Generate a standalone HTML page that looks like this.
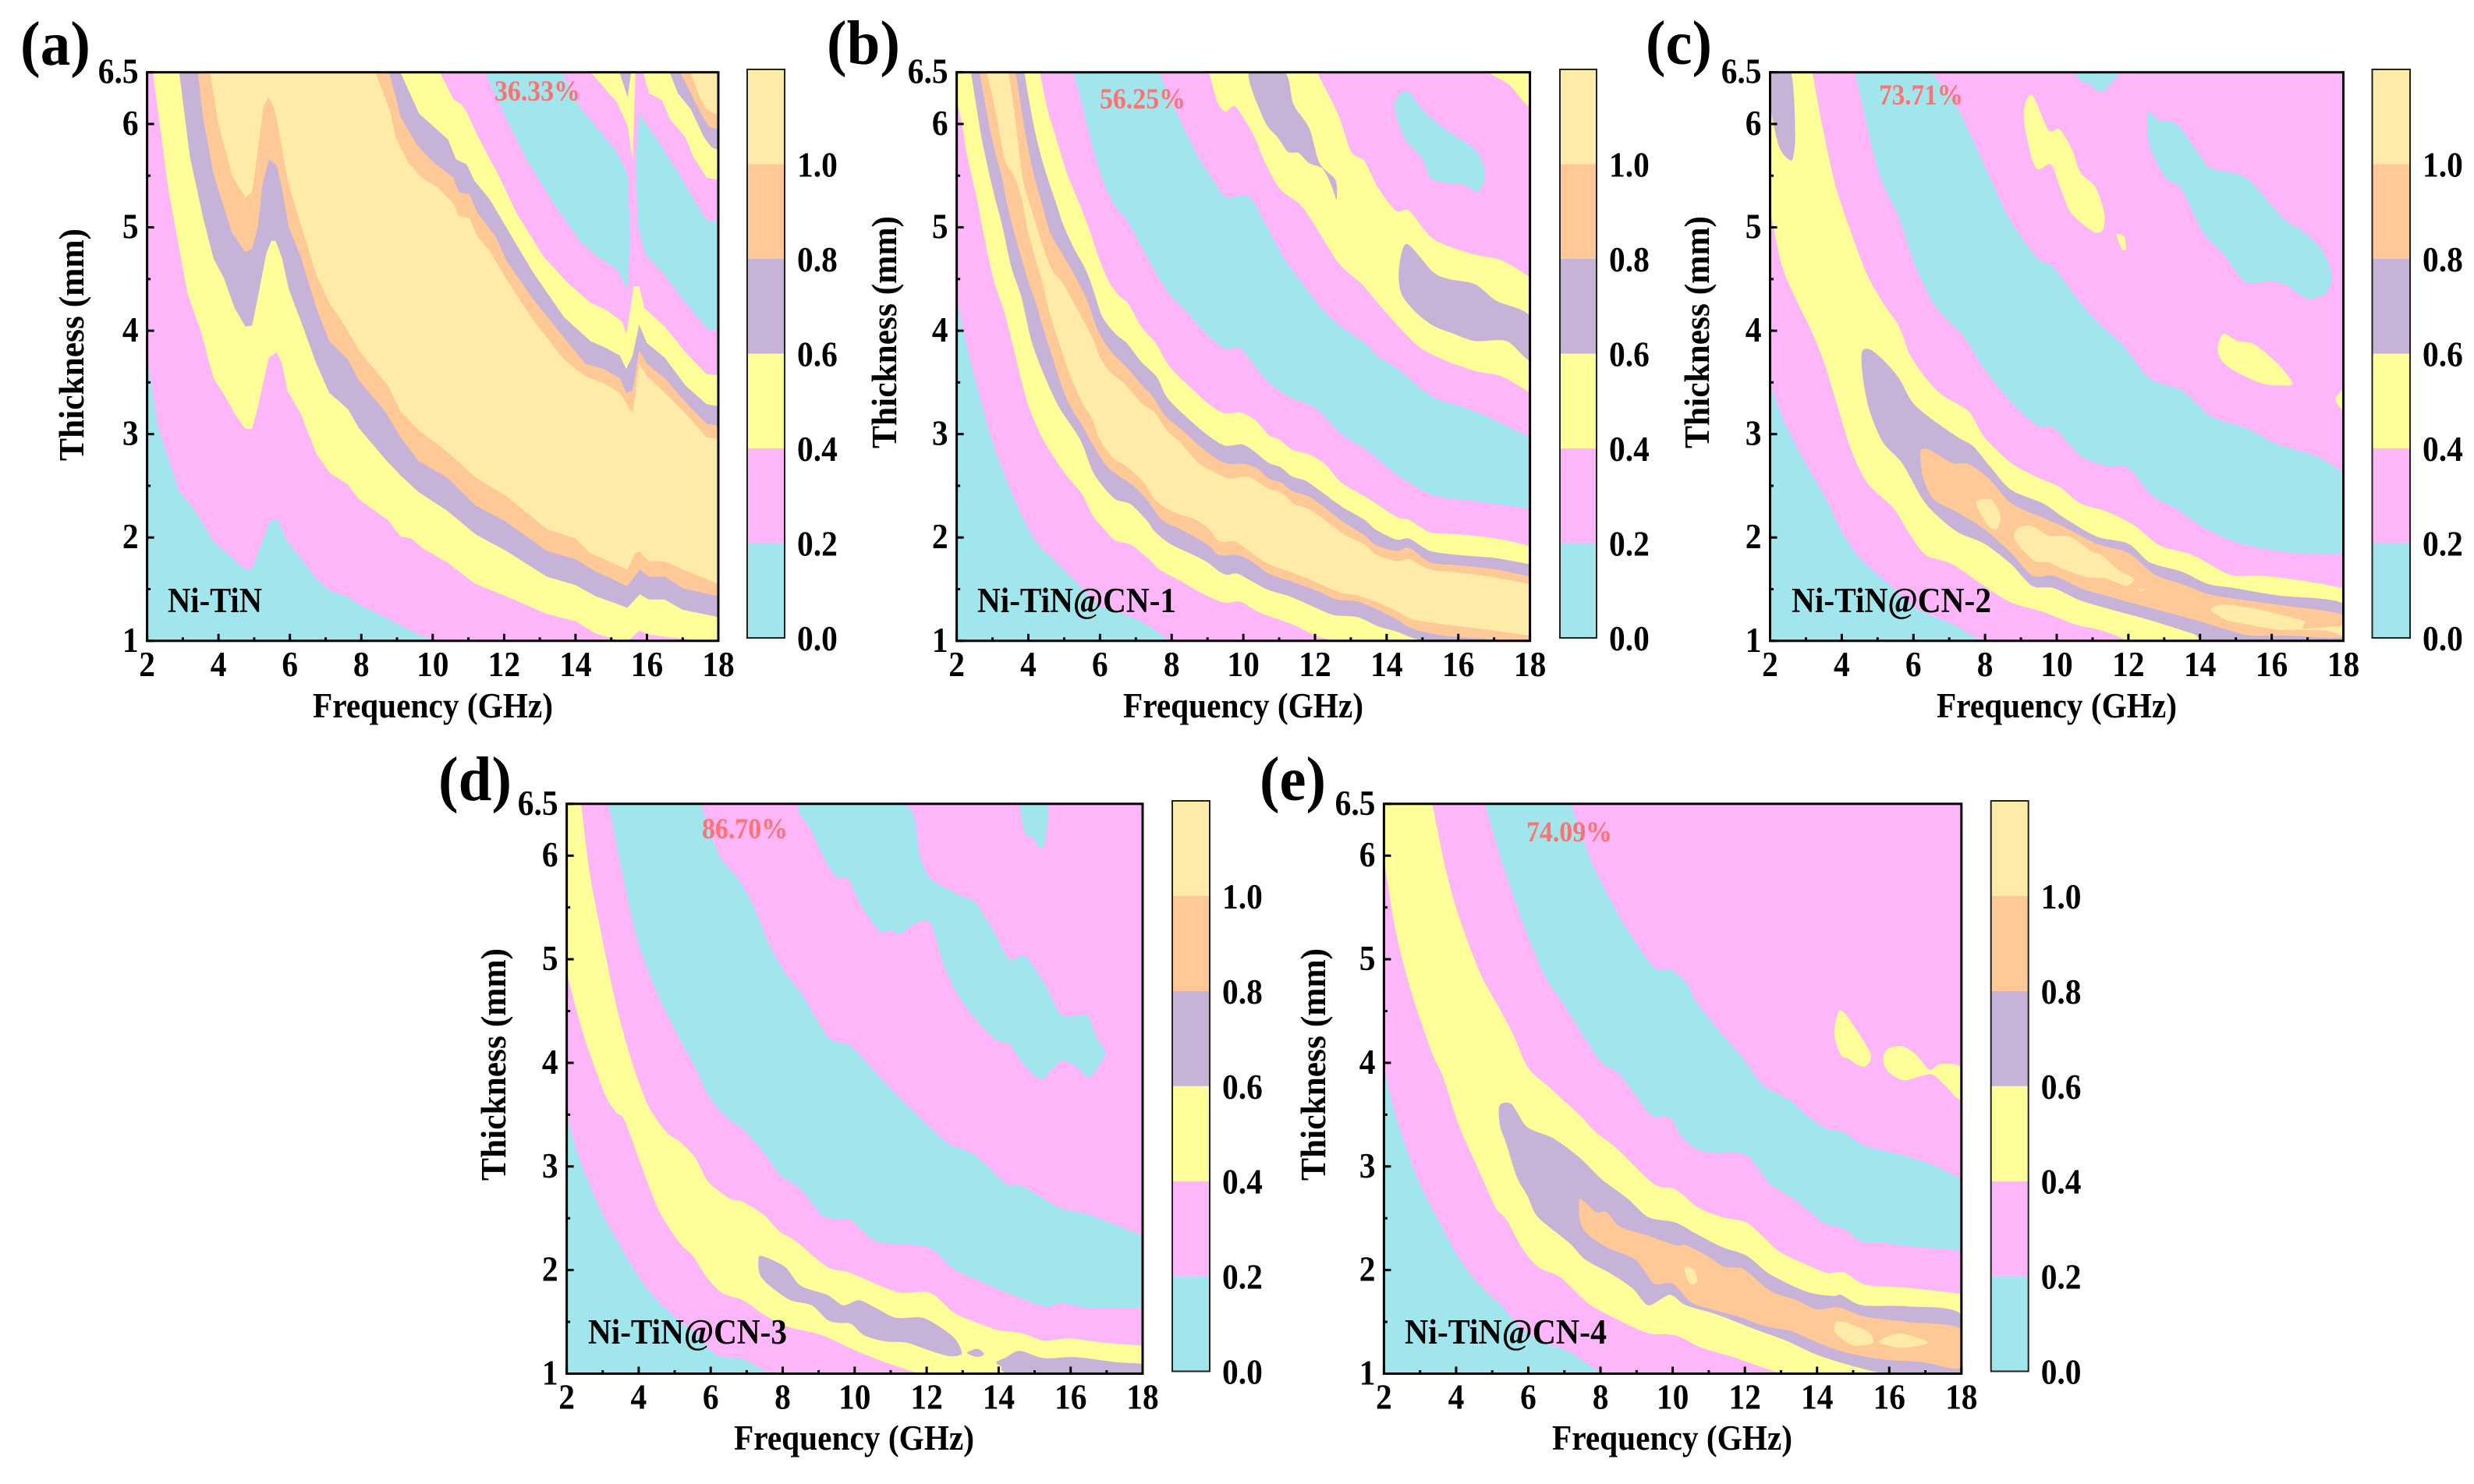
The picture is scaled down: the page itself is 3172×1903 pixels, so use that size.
<!DOCTYPE html>
<html lang="en">
<head>
<meta charset="utf-8">
<title>Ni-TiN absorption contour maps</title>
<style>
html,body{margin:0;padding:0;background:#fff;}
svg{display:block;}
text{font-family:"Liberation Serif",serif;font-weight:bold;fill:#000;}
.letter{font-size:80px;}
.title{font-size:46px;}
.tick{font-size:45px;}
.sample{font-size:45px;}
.pct{font-size:37px;fill:#ff7272;}
</style>
</head>
<body>
<svg id="figure" xmlns="http://www.w3.org/2000/svg" width="3172" height="1903" viewBox="0 0 3172 1903">
<rect x="0" y="0" width="3172" height="1903" fill="#fff"/>
<g id="panel-a"></g>
<g id="panel-b"></g>
<g id="panel-c"></g>
<g id="panel-d"></g>
<g id="panel-e"></g>
<g>
<text class="letter" x="26" y="83" textLength="90" lengthAdjust="spacingAndGlyphs">(a)</text>
<text class="title" x="555" y="920" text-anchor="middle" textLength="308" lengthAdjust="spacingAndGlyphs">Frequency (GHz)</text>
<text class="title" transform="translate(107,442) rotate(-90)" text-anchor="middle" textLength="298" lengthAdjust="spacingAndGlyphs">Thickness (mm)</text>
<text class="sample" x="215" y="785" textLength="121" lengthAdjust="spacingAndGlyphs">Ni-TiN</text>
<text class="pct" x="634" y="129" textLength="110" lengthAdjust="spacingAndGlyphs">36.33%</text>
</g>
<g>
<text class="letter" x="1060" y="82" textLength="94" lengthAdjust="spacingAndGlyphs">(b)</text>
<text class="title" x="1594" y="920" text-anchor="middle" textLength="308" lengthAdjust="spacingAndGlyphs">Frequency (GHz)</text>
<text class="title" transform="translate(1149,426) rotate(-90)" text-anchor="middle" textLength="298" lengthAdjust="spacingAndGlyphs">Thickness (mm)</text>
<text class="sample" x="1253" y="785" textLength="255" lengthAdjust="spacingAndGlyphs">Ni-TiN@CN-1</text>
<text class="pct" x="1410" y="139" textLength="110" lengthAdjust="spacingAndGlyphs">56.25%</text>
</g>
<g>
<text class="letter" x="2110" y="82" textLength="85" lengthAdjust="spacingAndGlyphs">(c)</text>
<text class="title" x="2637" y="920" text-anchor="middle" textLength="308" lengthAdjust="spacingAndGlyphs">Frequency (GHz)</text>
<text class="title" transform="translate(2191,426) rotate(-90)" text-anchor="middle" textLength="298" lengthAdjust="spacingAndGlyphs">Thickness (mm)</text>
<text class="sample" x="2297" y="785" textLength="256" lengthAdjust="spacingAndGlyphs">Ni-TiN@CN-2</text>
<text class="pct" x="2409" y="134" textLength="108" lengthAdjust="spacingAndGlyphs">73.71%</text>
</g>
<g>
<text class="letter" x="562" y="1026" textLength="94" lengthAdjust="spacingAndGlyphs">(d)</text>
<text class="title" x="1095" y="1859" text-anchor="middle" textLength="308" lengthAdjust="spacingAndGlyphs">Frequency (GHz)</text>
<text class="title" transform="translate(648,1365) rotate(-90)" text-anchor="middle" textLength="298" lengthAdjust="spacingAndGlyphs">Thickness (mm)</text>
<text class="sample" x="754" y="1723" textLength="255" lengthAdjust="spacingAndGlyphs">Ni-TiN@CN-3</text>
<text class="pct" x="900" y="1075" textLength="110" lengthAdjust="spacingAndGlyphs">86.70%</text>
</g>
<g>
<text class="letter" x="1615" y="1026" textLength="85" lengthAdjust="spacingAndGlyphs">(e)</text>
<text class="title" x="2144" y="1859" text-anchor="middle" textLength="308" lengthAdjust="spacingAndGlyphs">Frequency (GHz)</text>
<text class="title" transform="translate(1699,1365) rotate(-90)" text-anchor="middle" textLength="298" lengthAdjust="spacingAndGlyphs">Thickness (mm)</text>
<text class="sample" x="1801" y="1723" textLength="259" lengthAdjust="spacingAndGlyphs">Ni-TiN@CN-4</text>
<text class="pct" x="1957" y="1079" textLength="110" lengthAdjust="spacingAndGlyphs">74.09%</text>
</g>
</svg>
<script>
// Shared axis values
const xMajorTicks = [2,4,6,8,10,12,14,16,18];
const xMinorTicks = [3,5,7,9,11,13,15,17];
const yMajorTicks = [1,2,3,4,5,6,6.5];
const yMinorTicks = [1.5,2.5,3.5,4.5,5.5];
const colorbarTicks = [0,0.2,0.4,0.6,0.8,1.0];
const colorbarEdges = [0,0.2,0.4,0.6,0.8,1.0,1.2];
const bandColors = ['#a1e6ec','#feb6fb','#feff98','#c8b3d8','#fec897','#feeba7'];

// Panel (a): contour curves (frequency GHz, thickness mm)
const a1 = [[2,3.75],[2.3,3.08],[2.9,2.44],[3.27,2.3],[3.86,1.96],[4.23,1.85],[4.75,1.69],[4.94,1.69],[5.1,1.85],[5.44,2.15],[5.64,2.18],[5.93,1.96],[6.3,1.8],[6.74,1.6],[7.15,1.48],[7.6,1.43],[8,1.34],[8.66,1.23],[9.2,1.13],[9.7,1.05],[10.06,1]];
const a2 = [[2.16,6.5],[2.6,5.36],[3.13,4.36],[3.5,4],[3.86,3.54],[4.16,3.38],[4.45,3.2],[4.75,3.05],[4.94,3.05],[5.1,3.26],[5.41,3.74],[5.63,3.79],[5.78,3.68],[5.93,3.42],[6.3,3.2],[6.74,2.81],[7.1,2.63],[7.63,2.51],[7.93,2.37],[8.74,2.17],[9.1,2.01],[9.4,1.99],[9.7,1.9],[10.4,1.76],[11.2,1.55],[12.06,1.43],[13.2,1.26],[14,1.19],[14.57,1.07],[15.15,1.01],[15.5,1.01],[15.8,1.1],[16.05,1.06],[16.5,1.04],[17,1.02],[17.6,1]];
const a3 = [[2.9,6.5],[3.2,5.68],[3.57,5.09],[3.86,4.7],[4.16,4.5],[4.45,4.22],[4.75,4.04],[4.94,4.05],[5.1,4.32],[5.34,4.75],[5.48,4.87],[5.6,4.87],[5.78,4.7],[5.97,4.4],[6.3,4.1],[6.74,3.68],[7.1,3.4],[7.63,3.24],[7.93,3.06],[8.66,2.76],[9.1,2.6],[9.6,2.44],[10.4,2.26],[11.2,2.03],[12.06,1.87],[13.2,1.62],[14,1.54],[14.57,1.43],[15.15,1.36],[15.45,1.32],[15.8,1.45],[16.05,1.4],[16.5,1.4],[17,1.3],[18,1.23]];
const a4 = [[3.42,6.5],[3.57,6.05],[3.86,5.52],[4.08,5.27],[4.38,4.95],[4.75,4.76],[4.94,4.79],[5.1,5],[5.23,5.41],[5.41,5.66],[5.63,5.6],[5.78,5.37],[5.97,5],[6.3,4.72],[6.74,4.22],[7.1,3.9],[7.63,3.72],[7.93,3.52],[8.66,3.22],[9.1,2.97],[9.6,2.74],[10.4,2.58],[11.2,2.31],[12.06,2.15],[13.2,1.87],[14,1.79],[14.57,1.67],[15.45,1.53],[15.8,1.69],[16.05,1.62],[16.5,1.62],[17,1.51],[18,1.43]];
const a5 = [[3.76,6.5],[4,6],[4.38,5.5],[4.75,5.29],[4.94,5.34],[5.1,5.73],[5.26,6.17],[5.41,6.26],[5.56,6.15],[5.74,5.85],[5.93,5.46],[6.2,5.14],[6.74,4.54],[7.1,4.27],[7.55,4.04],[7.93,3.81],[8.74,3.47],[9.1,3.22],[9.6,3.04],[10.4,2.83],[11.2,2.58],[12.06,2.4],[13.2,2.08],[14,1.99],[14.4,1.85],[15.45,1.69],[15.68,1.85],[15.8,1.86],[16.05,1.77],[16.5,1.77],[17,1.69],[18,1.55]];
const a6 = [[8.4,6.5],[8.81,6.12],[8.96,5.87],[9.33,5.62],[9.7,5.48],[10.13,5.39],[10.58,5.23],[10.73,5.11],[11.03,5.09],[11.25,4.91],[11.6,4.77],[12.06,4.5],[12.8,4.11],[13.68,3.72],[14.28,3.56],[14.8,3.49],[15.24,3.4],[15.6,3.2],[15.78,3.68],[16,3.56],[16.5,3.4],[17.08,3.2],[17.67,2.97],[18,2.95]];
const a7 = [[8.78,6.5],[8.96,6.26],[9.1,6.07],[9.55,5.8],[9.99,5.64],[10.58,5.48],[10.73,5.34],[11.03,5.32],[11.25,5.14],[11.77,4.91],[12.06,4.68],[12.8,4.31],[13.68,3.93],[14.28,3.68],[14.8,3.63],[15.24,3.54],[15.42,3.4],[15.6,3.42],[15.78,3.81],[16,3.68],[16.5,3.54],[17.08,3.31],[17.67,3.1],[18,3.08]];
const a8 = [[9.1,6.5],[9.25,6.38],[9.62,6.1],[10.43,5.85],[10.65,5.66],[10.95,5.61],[11.17,5.45],[11.6,5.27],[12.06,5],[12.8,4.57],[13.68,4.13],[14.42,3.9],[14.87,3.83],[15.24,3.76],[15.42,3.63],[15.6,3.76],[15.78,4.06],[16,3.88],[16.5,3.74],[17.08,3.47],[17.67,3.29],[18,3.27]];
const a9 = [[10.2,6.5],[10.58,6.24],[10.8,6.19],[10.95,6.12],[11.25,5.89],[11.85,5.5],[12.36,5.13],[13.1,4.72],[13.76,4.47],[14.42,4.27],[14.87,4.2],[15.3,4.09],[15.43,3.97],[15.63,4.43],[15.78,4.43],[15.93,4.22],[16.5,4.04],[17.08,3.79],[17.67,3.58],[18,3.57]];
const aCyanLeft = [[11.47,6.5],[12.06,6.05],[12.65,5.64],[13.39,5.23],[14.13,4.86],[14.57,4.73],[15.16,4.59],[15.46,4.4],[15.53,4.91],[15.46,5.5],[15.16,5.73],[14.13,6.16],[13.61,6.5]];
const aCyanRight = [[15.78,6.1],[16.34,5.82],[16.93,5.5],[17.38,5.23],[17.67,5.07],[18,5.05],[18,4],[17.67,4.02],[17.08,4.27],[16.49,4.54],[15.97,4.73],[15.75,5],[15.68,5.59]];
const aYellowSpike = [[14.42,6.5],[15.16,6.21],[15.46,5.98],[15.6,5.66],[15.68,6.5]];
const aPurpleSpike = [[15.23,6.5],[15.46,6.26],[15.56,6.5]];
const aCornerYellow = [[15.9,6.5],[16.05,6.3],[16.42,6.23],[16.64,6.05],[17.08,5.87],[17.3,5.68],[17.67,5.48],[18,5.46],[18,6.5]];
const aCornerPurple = [[16.64,6.5],[16.86,6.3],[17.23,6.14],[17.45,5.98],[17.6,5.87],[17.82,5.77],[18,5.75],[18,6.5]];
const aCornerOrange = [[16.93,6.5],[17.15,6.35],[17.38,6.19],[17.6,6.05],[17.75,5.97],[18,5.95],[18,6.5]];
const aCornerCream = [[17.23,6.5],[17.45,6.28],[17.67,6.14],[18,6.08],[18,6.5]];
const aSweeps = [a1,a2,a3,a4,a5,a6,a7,a8,a9];
const aSweepBands = [1,2,3,4,5,4,3,2,1];
const aIslands = [aCyanLeft,aCyanRight,aYellowSpike,aPurpleSpike,aCornerYellow,aCornerPurple,aCornerOrange,aCornerCream];
const aIslandBands = [0,0,2,3,2,3,4,5];

// Panel (b)
const b1 = [[2,4.32],[2.29,3.84],[2.94,2.99],[3.31,2.63],[3.82,2.21],[4.26,1.94],[4.85,1.74],[5.51,1.5],[5.99,1.34],[6.65,1.26],[7.23,1.17],[7.95,1]];
const b2 = [[2,6.23],[2.15,6],[2.29,5.7],[2.58,5.25],[2.8,4.85],[3.05,4.47],[3.34,4.17],[3.58,3.84],[3.97,3.31],[4.41,2.95],[5,2.63],[5.5,2.42],[5.78,2.22],[6.14,2.07],[6.43,1.97],[6.86,1.93],[7.37,1.79],[7.66,1.69],[8.24,1.58],[8.9,1.45],[9.48,1.37],[9.91,1.38],[10.35,1.29],[10.71,1.24],[11.43,1.15],[12.02,1.05],[12.6,1]];
const b3 = [[2.4,6.5],[2.58,6.1],[2.73,5.8],[3.02,5.35],[3.27,5.02],[3.52,4.62],[3.81,4.32],[4.14,3.84],[4.78,3.31],[5.44,2.95],[5.78,2.65],[6.07,2.5],[6.43,2.37],[6.86,2.32],[7.34,2.15],[7.52,2.06],[7.95,1.94],[8.9,1.78],[9.33,1.67],[9.55,1.64],[9.84,1.65],[10.27,1.57],[10.71,1.49],[11.29,1.43],[12.02,1.32],[12.52,1.25],[13.18,1.23],[13.76,1.14],[14.27,1.09],[14.7,1.03],[15,1]];
const b4 = [[2.64,6.5],[2.83,6.13],[3.02,5.8],[3.27,5.48],[3.41,5.22],[3.67,4.87],[3.96,4.52],[4.25,4.22],[4.58,3.84],[5.07,3.34],[5.51,3.08],[5.78,2.91],[6.14,2.71],[6.5,2.6],[6.86,2.52],[7.3,2.37],[7.73,2.17],[8.24,2.08],[8.97,1.94],[9.33,1.83],[9.84,1.83],[10.27,1.76],[10.71,1.65],[11.29,1.58],[12.02,1.49],[12.6,1.4],[13.18,1.38],[13.76,1.3],[14.27,1.21],[14.7,1.12],[15.59,1.05],[16.76,1.02],[17.35,1]];
const b5 = [[2.83,6.5],[3.02,6.23],[3.23,5.85],[3.36,5.63],[3.6,5.5],[3.81,5.28],[3.96,5],[4.18,4.72],[4.39,4.47],[4.58,4.19],[4.9,3.84],[5.15,3.58],[5.51,3.3],[5.78,3.15],[5.99,2.95],[6.36,2.77],[6.72,2.69],[7.23,2.53],[7.52,2.37],[8.02,2.25],[8.68,2.17],[9.04,2.08],[9.33,1.96],[9.77,1.96],[10.27,1.84],[10.71,1.74],[11.29,1.67],[12.02,1.57],[12.67,1.47],[13.18,1.44],[13.76,1.37],[14.27,1.29],[14.7,1.21],[15.59,1.16],[16.76,1.11],[18,1.05]];
const b6 = [[3.45,6.5],[3.6,6.13],[3.71,5.83],[3.78,5.63],[3.85,5.45],[3.99,5.28],[4.18,5.07],[4.36,4.87],[4.65,4.6],[4.98,4.45],[5.34,4.22],[5.66,4.02],[5.85,3.88],[5.99,3.75],[6.28,3.6],[6.65,3.5],[7.15,3.3],[7.52,3.21],[7.88,3.03],[8.24,2.92],[8.75,2.72],[9.26,2.62],[9.62,2.57],[10.13,2.59],[10.49,2.52],[10.71,2.47],[11.07,2.43],[11.43,2.32],[11.8,2.28],[12.31,2.16],[12.81,2.03],[13.39,1.93],[13.68,1.84],[14.27,1.77],[14.63,1.79],[15.22,1.69],[16.03,1.66],[17.06,1.61],[18,1.55]];
const b7 = [[3.65,6.5],[3.81,6.13],[3.96,5.83],[4.14,5.53],[4.36,5.25],[4.61,4.95],[4.9,4.77],[5.27,4.55],[5.63,4.3],[5.92,4.02],[6.14,3.88],[6.43,3.75],[6.79,3.63],[7.15,3.48],[7.48,3.36],[7.81,3.18],[8.32,3.03],[8.9,2.85],[9.48,2.72],[10.06,2.71],[10.42,2.66],[10.71,2.57],[11.07,2.53],[11.36,2.45],[11.8,2.4],[12.23,2.3],[12.74,2.16],[13.39,2.02],[13.68,1.93],[14.27,1.87],[14.63,1.9],[15.22,1.76],[16.03,1.73],[17.06,1.69],[18,1.62]];
const b8 = [[3.89,6.5],[4.07,6.13],[4.25,5.83],[4.47,5.55],[4.76,5.25],[4.98,5.02],[5.27,4.8],[5.59,4.6],[5.81,4.4],[6.06,4.14],[6.43,3.97],[6.75,3.88],[7.15,3.7],[7.59,3.55],[7.88,3.35],[8.46,3.15],[8.97,3],[9.48,2.89],[9.98,2.9],[10.35,2.82],[10.71,2.72],[11.04,2.68],[11.36,2.59],[11.73,2.55],[12.23,2.43],[12.74,2.3],[13.39,2.17],[13.68,2.08],[14.27,1.98],[14.63,1.99],[15.22,1.87],[16.03,1.83],[17.06,1.8],[18,1.74]];
const b9 = [[4.32,6.5],[4.54,6.13],[4.76,5.88],[5.05,5.55],[5.34,5.3],[5.66,5.02],[5.92,4.75],[6.21,4.5],[6.5,4.35],[6.79,4.26],[7.15,4.04],[7.55,3.88],[7.95,3.65],[8.53,3.45],[9.04,3.29],[9.48,3.2],[9.91,3.21],[10.35,3.13],[10.71,2.99],[11,2.95],[11.36,2.85],[11.87,2.8],[12.31,2.7],[12.74,2.53],[13.47,2.38],[14.27,2.2],[14.63,2.17],[15.22,2.05],[16.03,2.03],[17.06,1.99],[18,1.92]];
const b10 = [[5.25,6.5],[5.41,6.31],[5.63,6],[5.85,5.7],[6.14,5.4],[6.43,5.2],[6.79,5.05],[7.22,4.77],[7.66,4.5],[7.95,4.35],[8.46,4.17],[8.82,4.02],[9.26,3.88],[9.51,3.82],[9.91,3.83],[10.27,3.68],[10.71,3.5],[11.29,3.36],[12.02,3.25],[12.74,3],[13.47,2.84],[14.27,2.61],[15.29,2.41],[16.47,2.35],[18,2.28]];
const b11 = [[7.66,6.5],[7.88,6.31],[8.24,6.03],[8.53,5.83],[8.82,5.63],[9.18,5.45],[9.51,5.29],[10.15,5.3],[10.59,5.05],[11.18,4.68],[12.06,4.27],[12.65,4.06],[13.39,3.88],[13.76,3.75],[14.27,3.64],[15.29,3.36],[16.47,3.22],[18,2.97]];
const b12 = [[9.04,6.5],[9.29,6.2],[9.51,6.12],[9.69,6.17],[9.85,6.14],[10.29,5.89],[10.59,5.64],[11.03,5.37],[11.69,5.18],[12.65,4.66],[13.31,4.45],[13.97,4.18],[14.85,3.86],[15.59,3.72],[16.47,3.61],[17.2,3.56],[18,3.4]];
const b13 = [[12.06,6.5],[12.65,6.09],[13.01,5.73],[13.38,5.64],[13.75,5.39],[14.26,5.16],[14.63,5.16],[15.29,4.89],[16.32,4.75],[17.21,4.68],[18,4.52]];
const bPurpleTop = [[10.15,6.5],[11.15,6.5],[11.4,6.19],[11.84,5.96],[12.13,5.62],[12.57,5.46],[12.6,5.27],[12.43,5.43],[12.2,5.57],[11.84,5.62],[11.54,5.72],[11.25,5.73],[10.96,5.87],[10.59,6.03]];
const bPurpleRight = [[14.56,4.84],[15.29,4.57],[15.74,4.5],[16.47,4.45],[17.06,4.29],[18,4.14],[18,3.72],[17.35,3.9],[16.47,3.9],[15.88,3.97],[15.29,4.05],[14.78,4.19],[14.41,4.36],[14.34,4.59]];
const bCyanIsland = [[14.56,6.32],[15,6.14],[15.51,5.98],[16.47,5.75],[16.74,5.55],[16.69,5.41],[16.5,5.34],[16.18,5.41],[15.29,5.46],[15,5.66],[14.49,5.87],[14.22,6.19]];
const bCornerYellow = [[16.9,6.5],[17.42,6.38],[18,6.17],[18,6.5]];
const bSweeps = [b1,b2,b3,b4,b5,b6,b7,b8,b9,b10,b11,b12,b13];
const bSweepBands = [1,2,3,4,5,4,3,2,1,0,1,2,1];
const bIslands = [bPurpleTop,bPurpleRight,bCyanIsland,bCornerYellow];
const bIslandBands = [3,3,0,2];

// Panel (c)
const c1 = [[2,3.49],[2.33,3.17],[2.92,2.76],[3.52,2.4],[4.04,2.03],[4.56,1.78],[5.3,1.55],[6.05,1.32],[7.09,1.16],[7.76,1.03],[7.98,1]];
const c2 = [[2,5.18],[2.33,4.63],[2.77,4.27],[3.15,4],[3.52,3.68],[3.89,3.26],[4.26,2.85],[4.71,2.53],[5.45,2.28],[5.9,2.03],[6.35,1.83],[7.09,1.74],[7.98,1.53],[8.73,1.37],[9.62,1.28],[10.51,1.16],[11.26,1.1],[12,1]];
const c3 = [[3.18,6.5],[3.44,6.01],[3.82,5.41],[4.26,4.95],[4.71,4.54],[5.15,4.27],[5.6,4.04],[5.9,3.77],[6.35,3.54],[6.79,3.38],[7.54,3.22],[7.98,2.97],[8.73,2.72],[9.47,2.58],[10.07,2.49],[10.66,2.33],[11.4,2.25],[12.15,2.12],[12.89,1.92],[13.79,1.83],[14.83,1.64],[15.72,1.63],[16.91,1.58],[18,1.51]];
const c4 = [[4.37,6.5],[5.01,5.55],[5.6,5.09],[6.05,4.63],[6.64,4.22],[7.39,3.95],[7.98,3.63],[8.73,3.31],[9.47,3.08],[9.92,3.06],[10.66,2.79],[11.4,2.69],[12,2.67],[12.67,2.4],[13.34,2.28],[14.08,2.1],[15.13,1.94],[16.61,1.85],[18,1.84]];
const c5 = [[6.5,6.5],[7.09,6.24],[7.68,5.83],[8.28,5.37],[8.73,5.05],[9.47,4.7],[9.92,4.61],[10.66,4.27],[11.26,4.04],[11.85,3.86],[12.6,3.54],[13.49,3.42],[14.31,3.17],[15.27,3.06],[16.17,2.9],[17.21,2.79],[18,2.63]];
const cPurpleLeft = [[2,6.5],[2.58,6.5],[2.7,5.92],[2.65,5.69],[2.55,5.65],[2.25,5.78],[2,6.19]];
const cPurpleMain = [[4.56,3.79],[4.78,3.82],[5.15,3.72],[5.6,3.54],[5.97,3.31],[6.49,3.15],[7.24,2.97],[7.68,2.88],[8.13,2.69],[8.73,2.46],[9.62,2.33],[10.21,2.19],[11.11,2.01],[12,1.94],[12.6,1.76],[13.49,1.67],[14.23,1.55],[14.98,1.51],[16.17,1.44],[18,1.36],[18,1],[14.38,1],[13.79,1.07],[12.6,1.2],[11.55,1.3],[10.66,1.39],[9.92,1.51],[9.32,1.53],[8.73,1.74],[7.98,1.94],[7.24,2.05],[6.57,2.24],[6.2,2.4],[5.68,2.72],[5.15,2.92],[4.78,3.22],[4.59,3.54]];
const cOrangeMain = [[6.2,2.83],[6.43,2.85],[7.09,2.72],[7.54,2.71],[8.13,2.56],[8.73,2.33],[9.62,2.19],[10.21,2.1],[11.11,1.94],[12,1.85],[12.74,1.64],[13.49,1.55],[14.38,1.44],[16.17,1.35],[18,1.25],[18,1.04],[16.47,1.05],[15.42,1.05],[14.83,1.1],[13.79,1.21],[12.6,1.32],[11.55,1.42],[10.66,1.51],[9.92,1.63],[9.32,1.63],[8.73,1.85],[7.98,2.08],[7.24,2.24],[6.57,2.37],[6.27,2.58]];
const cCream1 = [[7.76,2.35],[7.98,2.37],[8.2,2.36],[8.43,2.21],[8.35,2.09],[8.13,2.1],[7.83,2.26]];
const cCream2 = [[8.8,2.01],[8.95,2.1],[9.32,2.11],[9.77,2.02],[10.36,2.01],[10.96,1.87],[11.26,1.83],[11.7,1.69],[12.15,1.6],[11.93,1.53],[11.4,1.6],[10.81,1.62],[10.21,1.69],[9.77,1.76],[9.4,1.77],[9.02,1.89]];
const cCream3 = [[12.27,1.5],[12.49,1.5],[12.37,1.48]];
const cCream4 = [[14.3,1.3],[14.6,1.35],[15.42,1.32],[16.17,1.26],[16.91,1.19],[16.91,1.12],[18,1.14],[18,1.05],[17.5,1.1],[16.17,1.11],[15.13,1.17],[14.68,1.21]];
const cYellow1 = [[9.32,6.28],[9.1,6.17],[9.1,5.99],[9.32,5.65],[9.5,5.56],[9.84,5.61],[10.07,5.41],[10.36,5.16],[10.73,5.03],[11.08,4.95],[11.29,4.98],[11.33,5.13],[11.08,5.39],[10.66,5.53],[10.43,5.75],[10.07,5.95],[9.77,5.94]];
const cYellow2 = [[11.67,4.93],[11.88,4.91],[11.93,4.79],[11.82,4.79]];
const cYellow3 = [[14.53,3.9],[14.68,3.97],[15.05,3.9],[15.5,3.87],[16.17,3.68],[16.58,3.49],[16.23,3.47],[15.72,3.49],[15.13,3.58],[14.68,3.68],[14.5,3.79]];
const cYellow4 = [[17.8,3.36],[18,3.42],[18,3.24],[17.8,3.31]];
const cCyanTop = [[10.59,6.5],[11.7,6.5],[11.48,6.38],[11.23,6.31],[10.88,6.39],[10.66,6.42]];
const cCyanIsland = [[12.57,6.12],[12.89,6.03],[13.34,6],[13.93,5.73],[14.31,5.57],[15.27,5.48],[16.32,5.09],[16.91,4.95],[17.43,4.77],[17.68,4.52],[17.5,4.36],[17.13,4.31],[16.91,4.32],[16.46,4.43],[16.01,4.48],[15.27,4.47],[14.68,4.73],[14.08,4.95],[13.49,5.37],[13.04,5.48],[12.6,5.78],[12.52,6.01]];
const cSweeps = [c1,c2,c3,c4,c5];
const cSweepBands = [1,2,1,0,1];
const cIslands = [cPurpleLeft,cPurpleMain,cOrangeMain,cCream1,cCream2,cCream3,cCream4,cYellow1,cYellow2,cYellow3,cYellow4,cCyanTop,cCyanIsland];
const cIslandBands = [3,3,4,5,5,5,5,2,2,2,2,0,0];

// Panel (d)
const d1 = [[2,3.49],[2.35,3.08],[2.94,2.58],[3.38,2.3],[3.82,2.03],[4.33,1.78],[4.99,1.55],[5.58,1.39],[6.16,1.18],[6.89,1.14],[7.63,1]];
const d2 = [[2,4.87],[2.35,4.41],[2.64,4.09],[3.08,3.68],[3.38,3.52],[3.6,3.45],[4.04,3.04],[4.55,2.58],[5.14,2.26],[5.5,2.14],[5.87,1.94],[6.31,1.78],[6.89,1.71],[7.48,1.57],[8.07,1.46],[9.09,1.37],[9.97,1.23],[10.85,1.11],[11.8,1]];
const d3 = [[2.4,6.5],[2.64,5.83],[2.94,5.28],[3.38,4.55],[3.82,4],[4.26,3.59],[4.77,3.33],[5.14,3.24],[5.58,3.08],[5.94,2.85],[6.53,2.69],[6.89,2.66],[7.48,2.53],[7.92,2.37],[8.36,2.28],[9.24,2.03],[9.82,1.98],[10.7,1.85],[11.29,1.78],[12.1,1.78],[12.75,1.59],[13.34,1.5],[14,1.42],[14.66,1.39],[15.25,1.32],[15.98,1.34],[16.86,1.3],[18,1.27]];
const d4 = [[3.16,6.5],[3.52,5.87],[3.96,5.19],[4.55,4.64],[5.14,4.23],[5.58,3.95],[5.94,3.68],[6.45,3.47],[6.89,3.36],[7.48,3.13],[7.92,2.92],[8.5,2.78],[9.09,2.53],[9.53,2.49],[9.9,2.48],[10.56,2.28],[11.29,2.25],[12.1,2.21],[12.75,2.01],[13.49,1.89],[14.22,1.78],[15.25,1.65],[15.76,1.68],[16.56,1.63],[18,1.63]];
const d5 = [[5.72,6.5],[6.23,6.01],[6.75,5.78],[7.19,5.51],[7.63,5.14],[8.07,4.87],[8.5,4.68],[8.87,4.46],[9.31,4.23],[9.9,4.16],[10.56,3.91],[11.14,3.7],[12.02,3.4],[12.61,3.22],[13.34,3.11],[14.22,2.83],[14.66,2.81],[15.69,2.6],[16.56,2.53],[18,2.33]];
const dCyanIsland = [[8.54,6.5],[8.8,6.24],[9.31,5.87],[9.6,5.78],[9.82,5.78],[10.19,5.51],[10.7,5.27],[11,5.28],[11.26,5.24],[11.66,5.34],[12.1,5.35],[12.46,4.96],[12.83,4.68],[13.27,4.46],[13.93,4.22],[14.29,4.18],[14.73,3.97],[15.17,3.84],[15.47,3.93],[15.76,4.02],[16.12,3.97],[16.49,3.86],[16.71,3.93],[16.96,4.1],[16.71,4.25],[16.45,4.46],[15.76,4.46],[15.25,4.78],[14.73,5.03],[14.29,5],[13.85,5.28],[13.34,5.55],[12.9,5.62],[12.1,5.78],[11.8,6.01],[11.36,6.5]];
const dCyanTop = [[14.63,6.5],[15.35,6.5],[15.29,6.13],[15.13,6.07],[14.95,6.17],[14.73,6.22]];
const dPurple1 = [[7.33,2.12],[7.48,2.13],[8.07,2.03],[8.5,1.85],[9.24,1.76],[9.68,1.66],[10.12,1.71],[10.56,1.64],[11.14,1.54],[11.88,1.54],[12.46,1.43],[12.83,1.32],[12.97,1.19],[12.61,1.17],[12.02,1.23],[11.44,1.3],[10.85,1.31],[10.26,1.37],[9.9,1.48],[9.53,1.49],[9.24,1.52],[8.8,1.66],[8.21,1.71],[7.63,1.85],[7.36,1.96]];
const dPurple2 = [[13.12,1.2],[13.41,1.24],[13.6,1.19],[13.41,1.16]];
const dPurple3 = [[13.93,1.11],[14.22,1.16],[14.59,1.22],[15.25,1.15],[16.12,1.16],[17.3,1.11],[18,1.09],[18,1],[14.44,1],[14.07,1.07]];
const dSweeps = [d1,d2,d3,d4,d5];
const dSweepBands = [1,2,1,0,1];
const dIslands = [dCyanIsland,dCyanTop,dPurple1,dPurple2,dPurple3];
const dIslandBands = [0,0,3,3,3];

// Panel (e)
const e1 = [[2,3.95],[2.32,3.49],[2.91,2.9],[3.49,2.49],[4.07,2.12],[4.66,1.85],[5.24,1.66],[5.83,1.43],[6.41,1.3],[7.14,1.21],[7.73,1.07],[8.05,1]];
const e2 = [[2,5.97],[2.32,5.28],[2.76,4.68],[3.34,4.09],[3.64,3.86],[4.07,3.4],[4.59,2.99],[5.1,2.6],[5.39,2.49],[5.83,2.21],[6.27,2.03],[6.85,1.94],[7.29,1.8],[7.73,1.66],[8.6,1.5],[9.33,1.39],[10.07,1.37],[10.8,1.25],[11.67,1.16],[12.84,1.02],[13.28,1]];
const e3 = [[3.34,6.5],[3.71,5.87],[4.07,5.42],[4.66,4.87],[5.24,4.5],[5.61,4.25],[6,3.95],[6.63,3.75],[7,3.63],[7.44,3.49],[7.87,3.33],[8.46,3.17],[9.48,2.83],[10.07,2.78],[10.72,2.6],[11.38,2.51],[12.04,2.46],[12.48,2.33],[12.99,2.17],[13.72,2.05],[14.3,1.97],[14.74,1.98],[15.33,1.86],[16.5,1.83],[18,1.77]];
const e4 = [[4.8,6.5],[5.24,5.97],[5.83,5.37],[6.41,4.87],[7,4.55],[7.58,4.23],[8.02,4],[8.46,3.91],[8.9,3.72],[9.41,3.49],[9.92,3.47],[10.21,3.31],[10.65,3.17],[11.16,3.13],[12.04,3.11],[12.7,2.83],[13.43,2.67],[14.16,2.46],[14.74,2.4],[15.25,2.27],[15.91,2.26],[16.49,2.23],[18,2.19]];
const e5 = [[7.17,6.5],[7.44,6.24],[7.8,5.9],[8.31,5.55],[8.75,5.28],[9.48,4.92],[9.92,4.9],[10.36,4.78],[10.65,4.59],[11.31,4.3],[11.96,4.04],[12.48,3.79],[13.28,3.63],[13.72,3.49],[14.3,3.36],[14.74,3.33],[15.33,3.2],[16.35,3.11],[17.23,3.01],[18,2.88]];
const ePurpleMain = [[5.21,3.59],[5.54,3.6],[5.97,3.38],[6.7,3.27],[7.44,3.08],[8.02,2.88],[8.75,2.69],[9.33,2.51],[10.07,2.46],[10.65,2.35],[11.38,2.22],[12.04,2.14],[12.7,1.96],[13.72,1.79],[14.45,1.75],[14.67,1.76],[15.25,1.66],[16.49,1.65],[18,1.57],[18,1],[16,1],[15.03,1.07],[14.01,1.18],[13.13,1.32],[12.26,1.43],[11.23,1.57],[10.36,1.66],[9.92,1.76],[9.33,1.66],[8.9,1.82],[8.31,1.96],[7.58,2.1],[7.14,2.26],[6.27,2.51],[5.97,2.72],[5.68,2.9],[5.39,3.22],[5.21,3.4]];
const eOrangeMain = [[7.44,2.69],[7.87,2.56],[8.17,2.56],[8.53,2.42],[9.33,2.33],[10.07,2.24],[10.36,2.24],[10.94,2.14],[11.45,2.03],[11.96,2.01],[12.7,1.8],[13.43,1.71],[14.01,1.62],[14.59,1.64],[15.33,1.55],[16.49,1.5],[18,1.43],[18,1.06],[16.93,1.11],[15.76,1.14],[14.74,1.21],[14.01,1.3],[13.28,1.41],[12.55,1.46],[11.82,1.55],[11.09,1.62],[10.5,1.69],[10,1.87],[9.48,1.87],[8.97,2.1],[8.17,2.22],[7.58,2.37],[7.41,2.51],[7.41,2.6]];
const eCream1 = [[10.33,2.02],[10.58,2.01],[10.68,1.89],[10.47,1.87]];
const eCream2 = [[14.52,1.5],[14.74,1.5],[15.4,1.41],[15.55,1.3],[15.03,1.27],[14.67,1.34],[14.48,1.41]];
const eCream3 = [[15.72,1.31],[16.27,1.39],[17.08,1.3],[16.42,1.25],[15.98,1.27]];
const eYellow1 = [[14.59,4.49],[14.81,4.46],[15.47,4.1],[15.36,3.97],[15.11,3.98],[14.88,4.04],[14.67,4.07],[14.48,4.27]];
const eYellow2 = [[15.84,4.07],[15.98,4.14],[16.35,4.16],[16.71,4.09],[17,3.97],[17.15,3.93],[17.44,3.99],[18,3.95],[18,3.64],[17.52,3.79],[17.15,3.89],[16.42,3.83],[15.98,3.91],[15.84,4]];
const eSweeps = [e1,e2,e3,e4,e5];
const eSweepBands = [1,2,1,0,1];
const eIslands = [ePurpleMain,eOrangeMain,eCream1,eCream2,eCream3,eYellow1,eYellow2];
const eIslandBands = [3,4,5,5,5,2,2];

const layoutA = {id:'a',left:188.6,right:921,top:92.7,bottom:821.8,cbLeft:958,cbRight:1006,cbTop:89,cbBottom:818,smooth:false};
const layoutB = {id:'b',left:1226.6,right:1961.6,top:92.7,bottom:821.8,cbLeft:2000,cbRight:2047,cbTop:89,cbBottom:818,smooth:true};
const layoutC = {id:'c',left:2269.5,right:3004.5,top:92.7,bottom:821.8,cbLeft:3041.5,cbRight:3090,cbTop:89,cbBottom:818,smooth:true};
const layoutD = {id:'d',left:726.6,right:1465,top:1030.8,bottom:1761.5,cbLeft:1503,cbRight:1551,cbTop:1027,cbBottom:1758.5,smooth:true};
const layoutE = {id:'e',left:1774.4,right:2514.8,top:1030.8,bottom:1761.5,cbLeft:2552.7,cbRight:2600.7,cbTop:1027,cbBottom:1758.5,smooth:true};

const NS = 'http://www.w3.org/2000/svg';
const F_MIN = 2, F_MAX = 18, T_MIN = 1, T_MAX = 6.5, CB_MAX = 1.2;
const SPLINE_K = 0.14, GLYPH_SQUEEZE = 0.92;

function make(tag, attrs, parent) {
  const el = document.createElementNS(NS, tag);
  for (const k in attrs) el.setAttribute(k, attrs[k]);
  parent.appendChild(el);
  return el;
}

function squeeze(label) {
  label.setAttribute('textLength', (label.getComputedTextLength() * GLYPH_SQUEEZE).toFixed(1));
  label.setAttribute('lengthAdjust', 'spacingAndGlyphs');
}

// Builds path commands through pixel points; straight or Catmull-Rom.
function trace(px, smooth, closed) {
  const n = px.length;
  let d = 'M' + px[0][0].toFixed(1) + ' ' + px[0][1].toFixed(1);
  const segs = closed ? n : n - 1;
  for (let i = 0; i < segs; i++) {
    const at = j => closed ? px[(j + n) % n] : px[Math.max(0, Math.min(n - 1, j))];
    const p0 = at(i - 1), p1 = at(i), p2 = at(i + 1), p3 = at(i + 2);
    if (smooth) {
      const c1x = p1[0] + (p2[0] - p0[0]) * SPLINE_K, c1y = p1[1] + (p2[1] - p0[1]) * SPLINE_K;
      const c2x = p2[0] - (p3[0] - p1[0]) * SPLINE_K, c2y = p2[1] - (p3[1] - p1[1]) * SPLINE_K;
      d += 'C' + c1x.toFixed(1) + ' ' + c1y.toFixed(1) + ' ' + c2x.toFixed(1) + ' ' + c2y.toFixed(1) + ' ' + p2[0].toFixed(1) + ' ' + p2[1].toFixed(1);
    } else {
      d += 'L' + p2[0].toFixed(1) + ' ' + p2[1].toFixed(1);
    }
  }
  return d;
}

function drawPanel(layout, sweeps, sweepBands, islands, islandBands) {
  const root = document.getElementById('panel-' + layout.id);
  const xScale = f => layout.left + (f - F_MIN) / (F_MAX - F_MIN) * (layout.right - layout.left);
  const yScale = t => layout.bottom - (t - T_MIN) / (T_MAX - T_MIN) * (layout.bottom - layout.top);
  const cbScale = v => layout.cbBottom - v / CB_MAX * (layout.cbBottom - layout.cbTop);
  const toPixels = pts => pts.map(p => [xScale(p[0]), yScale(p[1])]);

  const clipId = 'clip-' + layout.id;
  const clip = make('clipPath', {id: clipId}, root);
  make('rect', {x: layout.left, y: layout.top, width: layout.right - layout.left, height: layout.bottom - layout.top}, clip);

  const plot = make('g', {'clip-path': 'url(#' + clipId + ')'}, root);
  
  

  const base = make('rect', {x: layout.left, y: layout.top, width: layout.right - layout.left, height: layout.bottom - layout.top, fill: bandColors[0]}, plot);
  
  

  sweeps.forEach((curve, i) => {
    const first = curve[0];
    const last = curve[curve.length - 1];
    let d = trace(toPixels(curve), layout.smooth, false);
    if (last[1] === T_MIN && last[0] < F_MAX) d += 'L' + xScale(F_MAX) + ' ' + yScale(T_MIN);
    d += 'L' + xScale(F_MAX) + ' ' + yScale(T_MAX);
    if (first[0] === F_MIN && first[1] < T_MAX) d += 'L' + xScale(F_MIN) + ' ' + yScale(T_MAX);
    d += 'Z';
    const band = make('path', {d: d, fill: bandColors[sweepBands[i]]}, plot);
    
    
  });

  islands.forEach((shape, i) => {
    const island = make('path', {d: trace(toPixels(shape), layout.smooth, true) + 'Z', fill: bandColors[islandBands[i]]}, plot);
    
    
  });

  const frame = make('rect', {x: layout.left, y: layout.top, width: layout.right - layout.left, height: layout.bottom - layout.top, fill: 'none', stroke: '#000', 'stroke-width': 3}, root);
  
  

  xMajorTicks.forEach(v => {
    const tick = make('line', {x1: xScale(v), x2: xScale(v), y1: layout.bottom, y2: layout.bottom - 9, stroke: '#000', 'stroke-width': 3}, root);
    
    
    const label = make('text', {class: 'tick', x: xScale(v), y: layout.bottom + 45, 'text-anchor': 'middle'}, root);
    
    
    label.textContent = String(v);
    squeeze(label);
  });
  xMinorTicks.forEach(v => {
    const tick = make('line', {x1: xScale(v), x2: xScale(v), y1: layout.bottom, y2: layout.bottom - 4.5, stroke: '#000', 'stroke-width': 3}, root);
    
    
  });
  yMajorTicks.forEach(v => {
    const tick = make('line', {x1: layout.left, x2: layout.left + 9, y1: yScale(v), y2: yScale(v), stroke: '#000', 'stroke-width': 3}, root);
    
    
    const label = make('text', {class: 'tick', x: layout.left - 11, y: yScale(v) + 14, 'text-anchor': 'end'}, root);
    
    
    label.textContent = String(v);
    squeeze(label);
  });
  yMinorTicks.forEach(v => {
    const tick = make('line', {x1: layout.left, x2: layout.left + 4.5, y1: yScale(v), y2: yScale(v), stroke: '#000', 'stroke-width': 3}, root);
    
    
  });

  bandColors.forEach((color, i) => {
    const y0 = cbScale(colorbarEdges[i + 1]);
    const y1 = cbScale(colorbarEdges[i]);
    const swatch = make('rect', {x: layout.cbLeft, y: y0, width: layout.cbRight - layout.cbLeft, height: y1 - y0, fill: color}, root);
    
    
  });
  const cbFrame = make('rect', {x: layout.cbLeft, y: layout.cbTop, width: layout.cbRight - layout.cbLeft, height: layout.cbBottom - layout.cbTop, fill: 'none', stroke: '#222', 'stroke-width': 2}, root);
  
  
  colorbarTicks.forEach(v => {
    const label = make('text', {class: 'tick', x: layout.cbRight + 16, y: cbScale(v) + 16}, root);
    
    
    label.textContent = v.toFixed(1);
    squeeze(label);
  });
}

drawPanel(layoutA, aSweeps, aSweepBands, aIslands, aIslandBands);
drawPanel(layoutB, bSweeps, bSweepBands, bIslands, bIslandBands);
drawPanel(layoutC, cSweeps, cSweepBands, cIslands, cIslandBands);
drawPanel(layoutD, dSweeps, dSweepBands, dIslands, dIslandBands);
drawPanel(layoutE, eSweeps, eSweepBands, eIslands, eIslandBands);
</script>
</body>
</html>
